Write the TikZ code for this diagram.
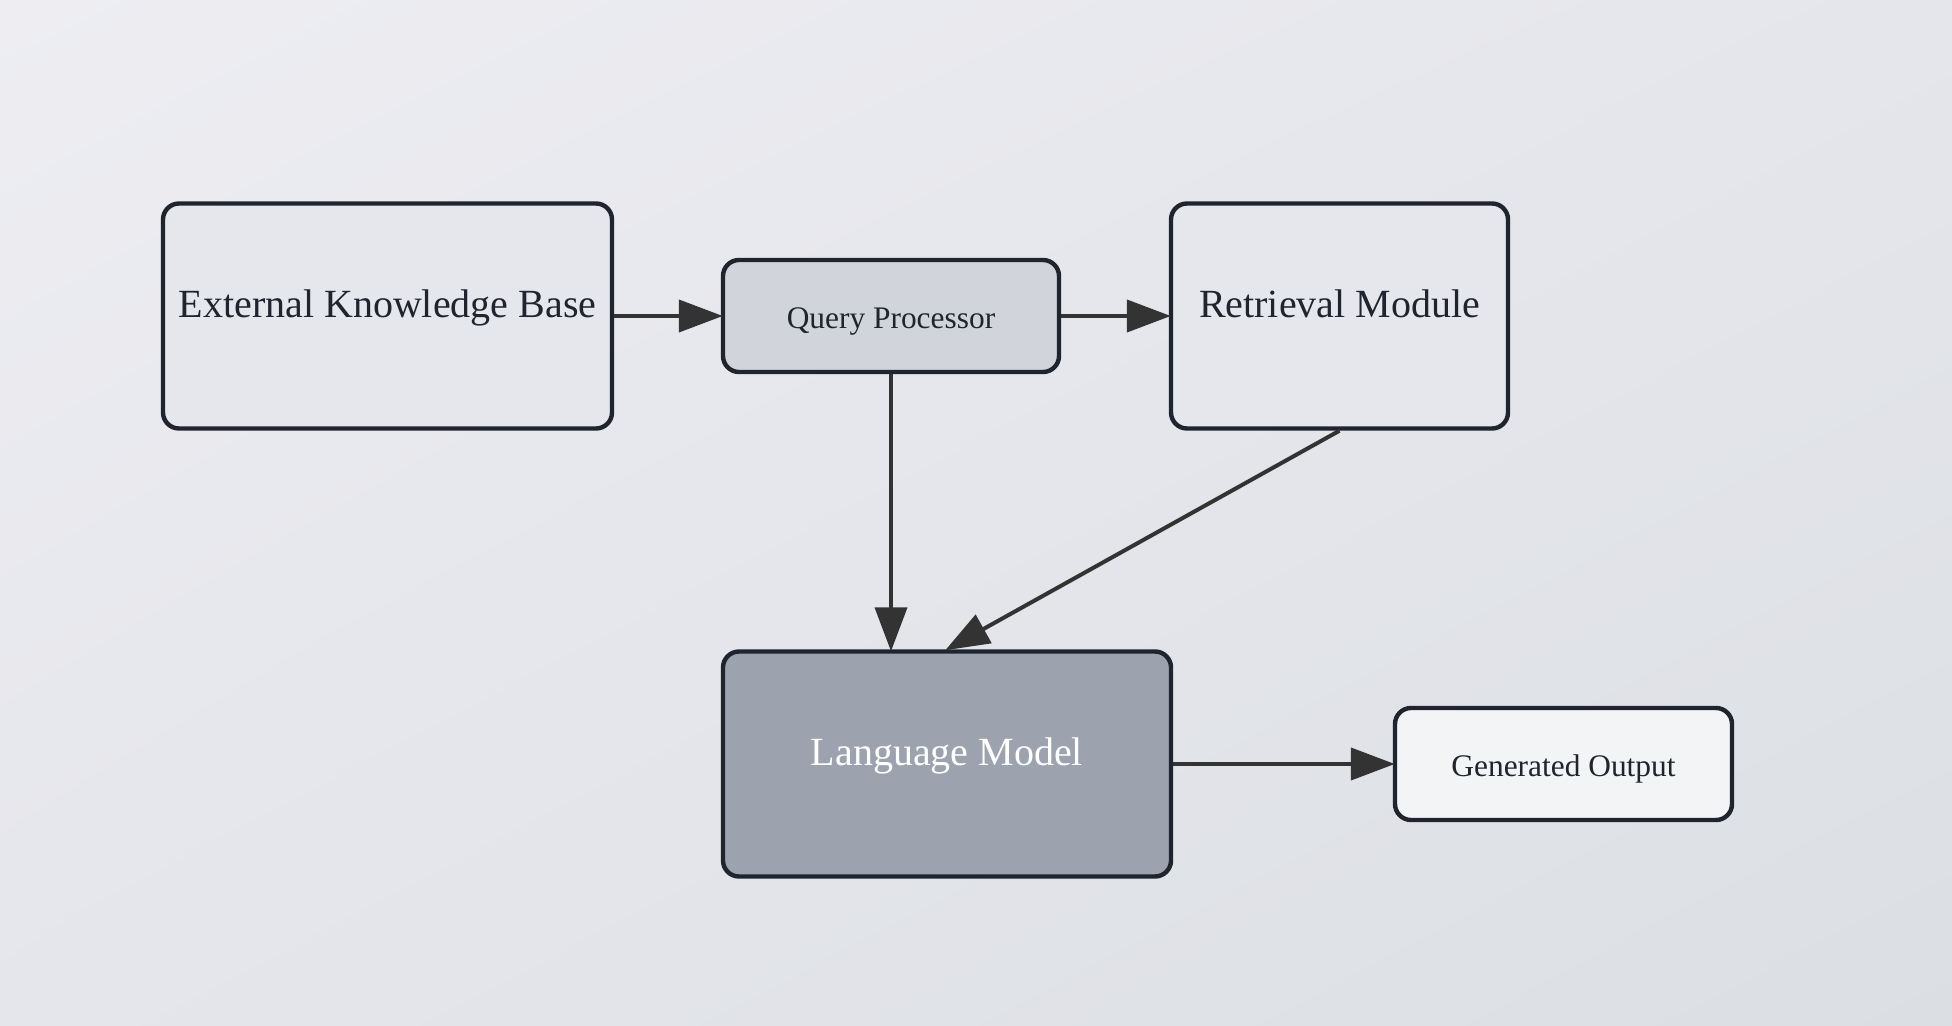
\documentclass[tikz,border=0pt]{standalone}
\usepackage{fontspec}
\setmainfont{Liberation Serif}
\usepackage{xcolor}
\usepackage{tikz}
\usetikzlibrary{arrows.meta,shadings}

\definecolor{bgtl}{RGB}{237,237,242}
\definecolor{bgmid}{RGB}{229,230,235}
\definecolor{bgbr}{RGB}{219,223,228}
\definecolor{edgeln}{RGB}{31,36,46}
\definecolor{arrowln}{RGB}{51,51,51}
\definecolor{lightbox}{RGB}{230,231,236}
\definecolor{querybox}{RGB}{209,213,219}
\definecolor{modelbox}{RGB}{156,163,175}
\definecolor{outbox}{RGB}{243,244,246}

\begin{document}
\begin{tikzpicture}[x=0.5pt,y=-0.5pt,
	box/.style={draw=edgeln, text=edgeln, line width=2.2pt, rounded corners=8pt, inner sep=0pt},
	bigbox/.style={box, minimum height=112.5pt, font=\fontsize{20}{24}\selectfont, text height=14pt, text depth=12.4pt},
	smallbox/.style={box, minimum height=56pt, font=\fontsize{15.7}{19}\selectfont, text height=15.8pt, text depth=3.6pt}]
		% background
		\shade[upper left=bgtl, upper right=bgmid, lower left=bgmid, lower right=bgbr] (0,0) rectangle (1952,1026);
		\useasboundingbox (0,0) rectangle (1952,1026);
		%
		\node[bigbox, fill=lightbox, minimum width=224.5pt] (ekb) at (387.5,316) {External Knowledge Base};
		\node[smallbox, fill=querybox, minimum width=168pt] (qp) at (891,316) {Query Processor};
		\node[bigbox, fill=lightbox, minimum width=168.5pt] (rm) at (1339.5,316) {Retrieval Module};
		\node[bigbox, fill=modelbox, minimum width=224pt, text=white] (lm) at (947,764) {Language Model};
		\node[smallbox, fill=outbox, minimum width=168.5pt] (go) at (1563.5,764) {Generated Output};
		%
		\path[-{Triangle[length=22pt,width=16pt]}, arrowln, line width=2pt, shorten >=-1pt]
		(ekb) edge (qp)
		(qp) edge (rm)
		(qp.south) edge (qp.south |- lm.north)
		(rm.south) edge (lm.north)
		(lm) edge (go);
\end{tikzpicture}
\end{document}
